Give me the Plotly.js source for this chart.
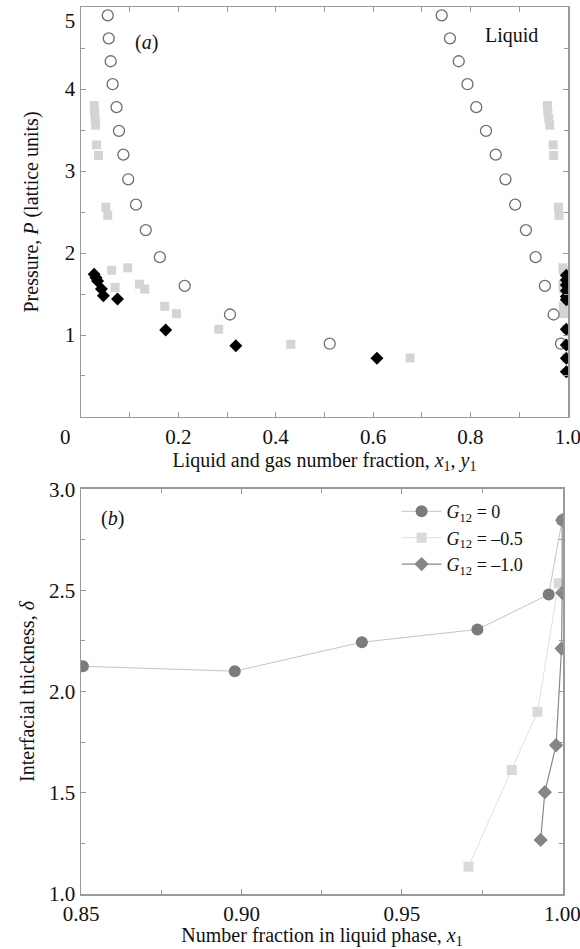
<!DOCTYPE html>
<html>
<head>
<meta charset="utf-8">
<script src="https://cdn.plot.ly/plotly-3.0.1.min.js"></script>
<style>html,body{margin:0;padding:0;background:#fff;}#chart{width:580px;height:949px;}</style>
</head>
<body>
<div id="chart"></div>
<script>
// ---- Panel (a): pressure vs liquid/gas number fraction ----
const circX = [0.055,0.057,0.061,0.065,0.073,0.078,0.087,0.097,0.113,0.133,0.162,0.213,0.306,0.511,
               0.741,0.758,0.776,0.794,0.812,0.832,0.852,0.872,0.892,0.914,0.934,0.953,0.971,0.986];
const circY = [4.90,4.62,4.34,4.06,3.78,3.49,3.20,2.90,2.59,2.28,1.95,1.60,1.25,0.894,
               4.90,4.62,4.34,4.06,3.78,3.49,3.20,2.90,2.59,2.28,1.95,1.60,1.25,0.894];
const sqX = [0.027,0.028,0.029,0.030,0.032,0.036,0.051,0.055,0.063,0.096,0.070,0.120,0.131,0.172,0.196,0.283,0.431,0.676,
             0.958,0.959,0.961,0.963,0.970,0.971,0.981,0.982,0.990,0.991,0.990,0.991,0.992,0.991,0.992,0.997,0.997,0.997];
const sqY = [3.80,3.72,3.64,3.56,3.32,3.19,2.56,2.46,1.79,1.82,1.58,1.62,1.56,1.35,1.26,1.07,0.887,0.72,
             3.80,3.72,3.64,3.56,3.32,3.19,2.56,2.46,1.82,1.79,1.62,1.58,1.56,1.35,1.26,1.07,0.887,0.72];
const diaX = [0.027,0.031,0.034,0.042,0.046,0.075,0.174,0.318,0.608,
              0.997,0.997,0.997,0.997,0.997,0.997,0.997,0.997,0.997,0.997];
const diaY = [1.74,1.70,1.66,1.56,1.48,1.44,1.06,0.87,0.715,
              1.73,1.67,1.61,1.54,1.47,1.43,1.07,0.878,0.715,0.553];
const aXTicks = [0,0.2,0.4,0.6,0.8,1.0];
const aXLabels = ["0\u00a0\u00a0\u00a0\u00a0\u00a0\u00a0","0.2","0.4","0.6","0.8","1.0"];
const aYTicks = [1,2,3,4,5];
const aYLabels = ["1","2","3","4","<br>5"];

// ---- Panel (b): interfacial thickness vs liquid number fraction ----
const g0X = [0.8506,0.8979,0.9375,0.9735,0.9957,0.9999];
const g0Y = [2.125,2.101,2.244,2.307,2.480,2.847];
const g05X = [0.9707,0.9842,0.9922,0.9988];
const g05Y = [1.135,1.613,1.900,2.535];
const g10X = [0.9932,0.9945,0.9980,0.9997,0.9999,0.9999];
const g10Y = [1.267,1.503,1.735,2.213,2.488,2.847];
const bXTicks = [0.85,0.90,0.95,1.00];
const bXLabels = ["0.85","0.90","0.95","1.00"];
const bYTicks = [1.0,1.5,2.0,2.5,3.0];
const bYLabels = ["1.0","1.5","2.0","2.5","3.0"];
const seriesNames = ["<i>G</i><sub>12</sub> = 0","<i>G</i><sub>12</sub> = –0.5","<i>G</i><sub>12</sub> = –1.0"];

const serif = "Liberation Serif";
const frame = "#9a9a9a";

const traces = [
  {x: sqX, y: sqY, mode: "markers", type: "scatter", xaxis: "x", yaxis: "y", showlegend: false,
   marker: {symbol: "square", size: 9, color: "#d4d4d4"}},
  {x: circX, y: circY, mode: "markers", type: "scatter", xaxis: "x", yaxis: "y", showlegend: false,
   marker: {symbol: "circle-open", size: 11, color: "#6e6e6e", line: {width: 1.3, color: "#6e6e6e"}}},
  {x: diaX, y: diaY, mode: "markers", type: "scatter", xaxis: "x", yaxis: "y", showlegend: false,
   marker: {symbol: "diamond", size: 10, color: "#000"}},
  {x: g0X, y: g0Y, name: seriesNames[0], mode: "lines+markers", type: "scatter", xaxis: "x2", yaxis: "y2",
   line: {color: "#c4c4c4", width: 1}, marker: {symbol: "circle", size: 12, color: "#7b7b7b"}},
  {x: g05X, y: g05Y, name: seriesNames[1], mode: "lines+markers", type: "scatter", xaxis: "x2", yaxis: "y2",
   line: {color: "#e0e0e0", width: 1}, marker: {symbol: "square", size: 10, color: "#d9d9d9"}},
  {x: g10X, y: g10Y, name: seriesNames[2], mode: "lines+markers", type: "scatter", xaxis: "x2", yaxis: "y2",
   line: {color: "#8a8a8a", width: 1.2}, marker: {symbol: "diamond", size: 11, color: "#858585"}}
];

function axis(extra) {
  const base = {
    showgrid: false, zeroline: false, showline: true, linecolor: frame, linewidth: 1.5,
    mirror: "ticks", ticks: "inside", ticklen: 5, tickcolor: frame, tickwidth: 1,
    tickfont: {family: serif, size: 21, color: "#111"},
    ticklabeloverflow: "allow", automargin: false, tickmode: "array"
  };
  return Object.assign(base, extra);
}
function tfont() { return {family: serif, size: 20, color: "#111"}; }

const layout = {
  width: 580, height: 949,
  margin: {l: 81, r: 12, t: 7, b: 55},
  paper_bgcolor: "#fff", plot_bgcolor: "#fff",
  font: {family: serif, size: 21, color: "#111"},
  xaxis: axis({
    domain: [0, 1], range: [0, 1.0005], anchor: "y",
    tickvals: aXTicks, ticktext: aXLabels,
    minor: {dtick: 0.1, ticks: "inside", ticklen: 5, tickcolor: frame},
    title: {text: "Liquid and gas number fraction, <i>x</i><sub>1</sub>, <i>y</i><sub>1</sub>", font: tfont(), standoff: 0}
  }),
  yaxis: axis({
    domain: [0.5378, 1], range: [0, 5.002], anchor: "x",
    tickvals: aYTicks, ticktext: aYLabels,
    minor: {dtick: 0.5, ticks: "inside", ticklen: 4, tickcolor: frame},
    title: {text: "Pressure, <i>P</i> (lattice units)", font: tfont(), standoff: 21}
  }),
  xaxis2: axis({
    domain: [0, 0.99], range: [0.85, 1.0002], anchor: "y2",
    tickvals: bXTicks, ticktext: bXLabels,
    minor: {dtick: 0.025, ticks: "inside", ticklen: 4, tickcolor: frame},
    title: {text: "Number fraction in liquid phase, <i>x</i><sub>1</sub>", font: tfont(), standoff: 0}
  }),
  yaxis2: axis({
    domain: [0, 0.4566], range: [1.0, 3.001], anchor: "x2",
    tickvals: bYTicks, ticktext: bYLabels,
    minor: {dtick: 0.25, ticks: "inside", ticklen: 4, tickcolor: frame},
    title: {text: "Interfacial thickness, <i>δ</i>", font: tfont(), standoff: 9}
  }),
  legend: {
    x: 0.648, y: 0.452, xanchor: "left", yanchor: "top",
    bgcolor: "rgba(0,0,0,0)", font: {family: serif, size: 18, color: "#111"},
    itemwidth: 40, tracegroupgap: 0
  },
  annotations: [
    {xref: "x", yref: "y", x: 0.135, y: 4.57, text: "(<i>a</i>)", showarrow: false, font: tfont()},
    {xref: "x", yref: "y", x: 0.885, y: 4.66, text: "Liquid", showarrow: false, font: tfont()},
    {xref: "x2", yref: "y2", x: 0.8598, y: 2.855, text: "(<i>b</i>)", showarrow: false, font: tfont()}
  ]
};

Plotly.newPlot("chart", traces, layout, {displayModeBar: false, staticPlot: true});
</script>
</body>
</html>
